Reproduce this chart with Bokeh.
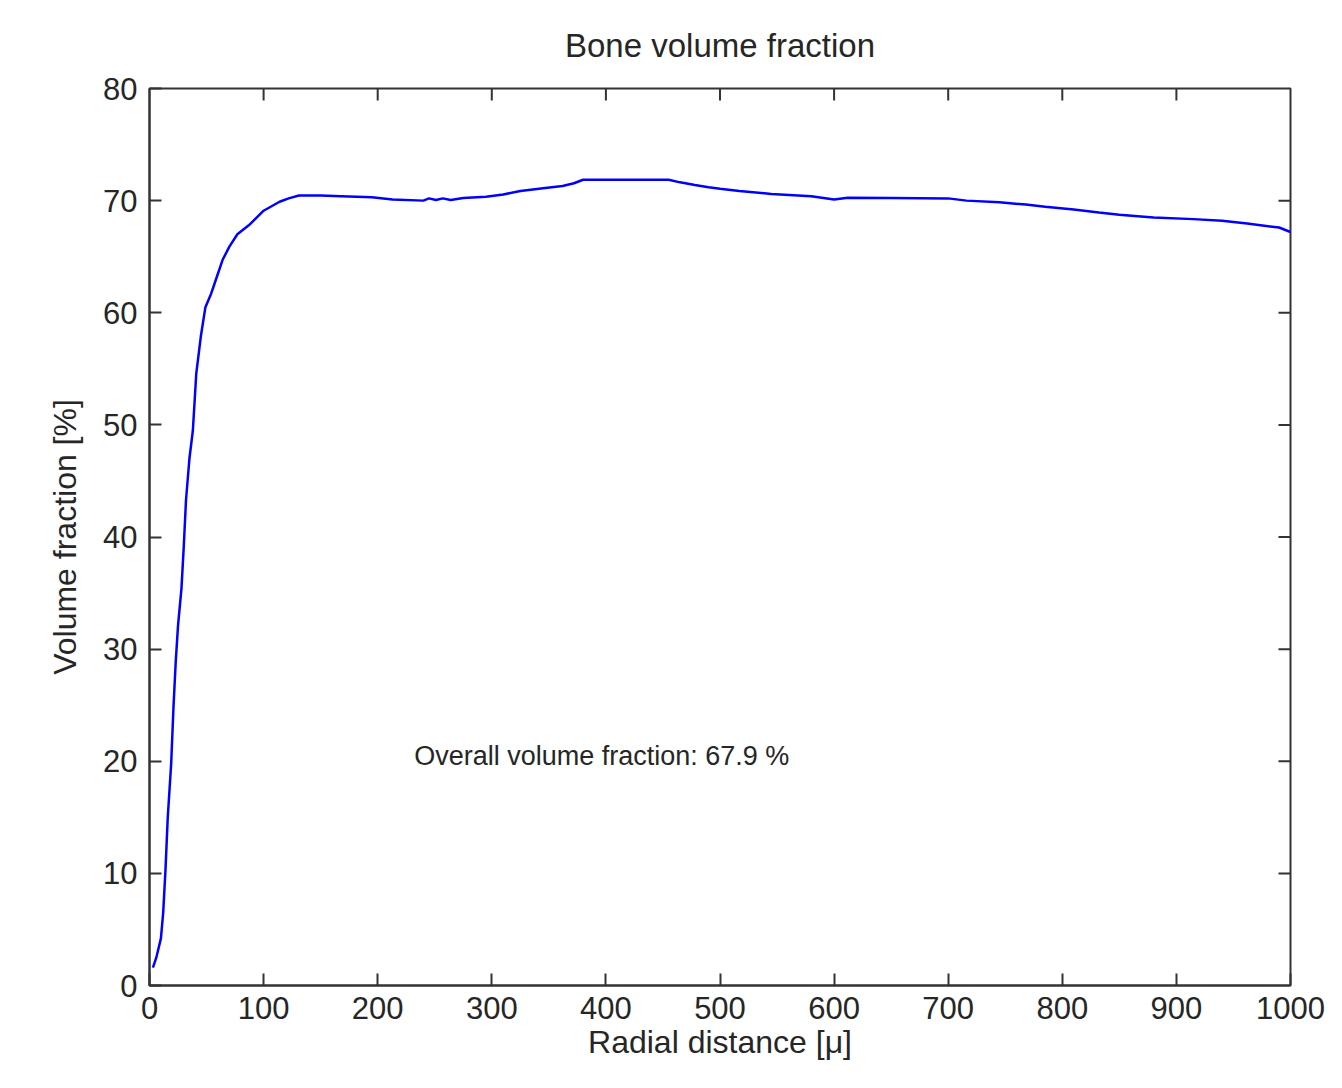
from bokeh.plotting import figure
from bokeh.models import Label, FixedTicker, Range1d
from bokeh.embed import file_html
from bokeh.resources import INLINE

# Data
radial_distance = [3, 6, 10, 12, 14, 16, 19, 21, 23, 25, 28, 30, 32, 35, 38, 41, 45, 49, 54, 58,
                   64, 70, 77, 87, 100, 114, 122, 131, 150, 168, 195, 213, 240, 245, 251, 257, 264,
                   275, 295, 310, 325, 345, 362, 372, 380, 420, 455, 465, 478, 490, 500, 517, 545,
                   580, 600, 612, 650, 700, 716, 745, 768, 785, 810, 832, 850, 880, 915, 940, 962,
                   990, 1000]
volume_fraction = [1.6, 2.5, 4.2, 6.5, 10.3, 15.0, 19.8, 24.8, 28.9, 32.1, 35.4, 39.1, 43.3, 47.0,
                   49.5, 54.6, 57.9, 60.5, 61.7, 62.9, 64.7, 65.9, 67.0, 67.8, 69.1, 69.9, 70.2,
                   70.45, 70.45, 70.4, 70.3, 70.1, 70.0, 70.2, 70.05, 70.2, 70.05, 70.24, 70.35,
                   70.55, 70.85, 71.1, 71.3, 71.55, 71.86, 71.86, 71.86, 71.63, 71.4, 71.2, 71.05,
                   70.85, 70.6, 70.4, 70.1, 70.25, 70.24, 70.2, 70.0, 69.85, 69.65, 69.45, 69.2,
                   68.95, 68.75, 68.5, 68.35, 68.2, 67.95, 67.6, 67.2]
x_ticks = [0, 100, 200, 300, 400, 500, 600, 700, 800, 900, 1000]
y_ticks = [0, 10, 20, 30, 40, 50, 60, 70, 80]
title_text = "Bone volume fraction"
x_label = "Radial distance [\u03bc]"
y_label = "Volume fraction [%]"
note_text = "Overall volume fraction: 67.9 %"
note_x = 232
note_y = 20.5

X_MIN, X_MAX = 0, 1000
Y_MIN, Y_MAX = 0, 80

FONT = "Liberation Sans"
TXT = "#262626"
AX = "#333333"
TICK_PX = 12

# canvas sits at (8, 8) on the page; frame spans page x 157..1298, y 95..993
W, H = 1326, 1072
LEFT, RIGHT, TOP, BOTTOM = 149, 36, 87, 87

p = figure(width=W, height=H, x_range=Range1d(X_MIN, X_MAX), y_range=Range1d(Y_MIN, Y_MAX),
           output_backend="svg", toolbar_location=None,
           min_border_left=LEFT, min_border_right=RIGHT, min_border_top=TOP,
           min_border_bottom=BOTTOM,
           x_axis_label=x_label, y_axis_label=y_label)
p.title.text = title_text
p.title.align = "center"
p.title.text_font = FONT
p.title.text_font_size = "33px"
p.title.text_font_style = "normal"
p.title.text_color = TXT
p.title.standoff = 49
p.grid.visible = False
p.outline_line_color = AX
p.outline_line_width = 2
p.background_fill_color = "white"
p.border_fill_color = "white"


def style(ax, ticks):
    ax.ticker = FixedTicker(ticks=ticks)
    ax.major_tick_in = TICK_PX
    ax.major_tick_out = 0
    ax.minor_tick_in = 0
    ax.minor_tick_out = 0
    ax.major_tick_line_color = AX
    ax.major_tick_line_width = 2
    ax.axis_line_color = AX
    ax.axis_line_width = 2
    ax.major_label_text_font = FONT
    ax.major_label_text_color = TXT
    ax.major_label_text_font_size = "31px"
    ax.axis_label_text_font = FONT
    ax.axis_label_text_color = TXT
    ax.axis_label_text_font_style = "normal"
    ax.axis_label_text_font_size = "32px"


style(p.xaxis[0], x_ticks)
style(p.yaxis[0], y_ticks)
p.xaxis[0].major_label_standoff = 11
p.xaxis[0].axis_label_standoff = 2
p.yaxis[0].major_label_standoff = 12
p.yaxis[0].axis_label_standoff = 17

# mirrored inward ticks on the top and right edges of the box
frame_w = W - LEFT - RIGHT
frame_h = H - TOP - BOTTOM
dy = TICK_PX * (Y_MAX - Y_MIN) / frame_h
dx = TICK_PX * (X_MAX - X_MIN) / frame_w
inner_x = x_ticks[1:-1]
inner_y = y_ticks[1:-1]
p.segment(x0=inner_x, x1=inner_x, y0=[Y_MAX] * len(inner_x), y1=[Y_MAX - dy] * len(inner_x),
          line_color=AX, line_width=2)
p.segment(x0=[X_MAX] * len(inner_y), x1=[X_MAX - dx] * len(inner_y), y0=inner_y, y1=inner_y,
          line_color=AX, line_width=2)

p.line(radial_distance, volume_fraction, line_color="#0000FF", line_width=2.5)

p.add_layout(Label(x=note_x, y=note_y, text=note_text, text_font=FONT, text_font_size="27px",
                   text_color=TXT, text_baseline="middle", text_align="left"))

open("out.html", "w").write(file_html(p, INLINE))
